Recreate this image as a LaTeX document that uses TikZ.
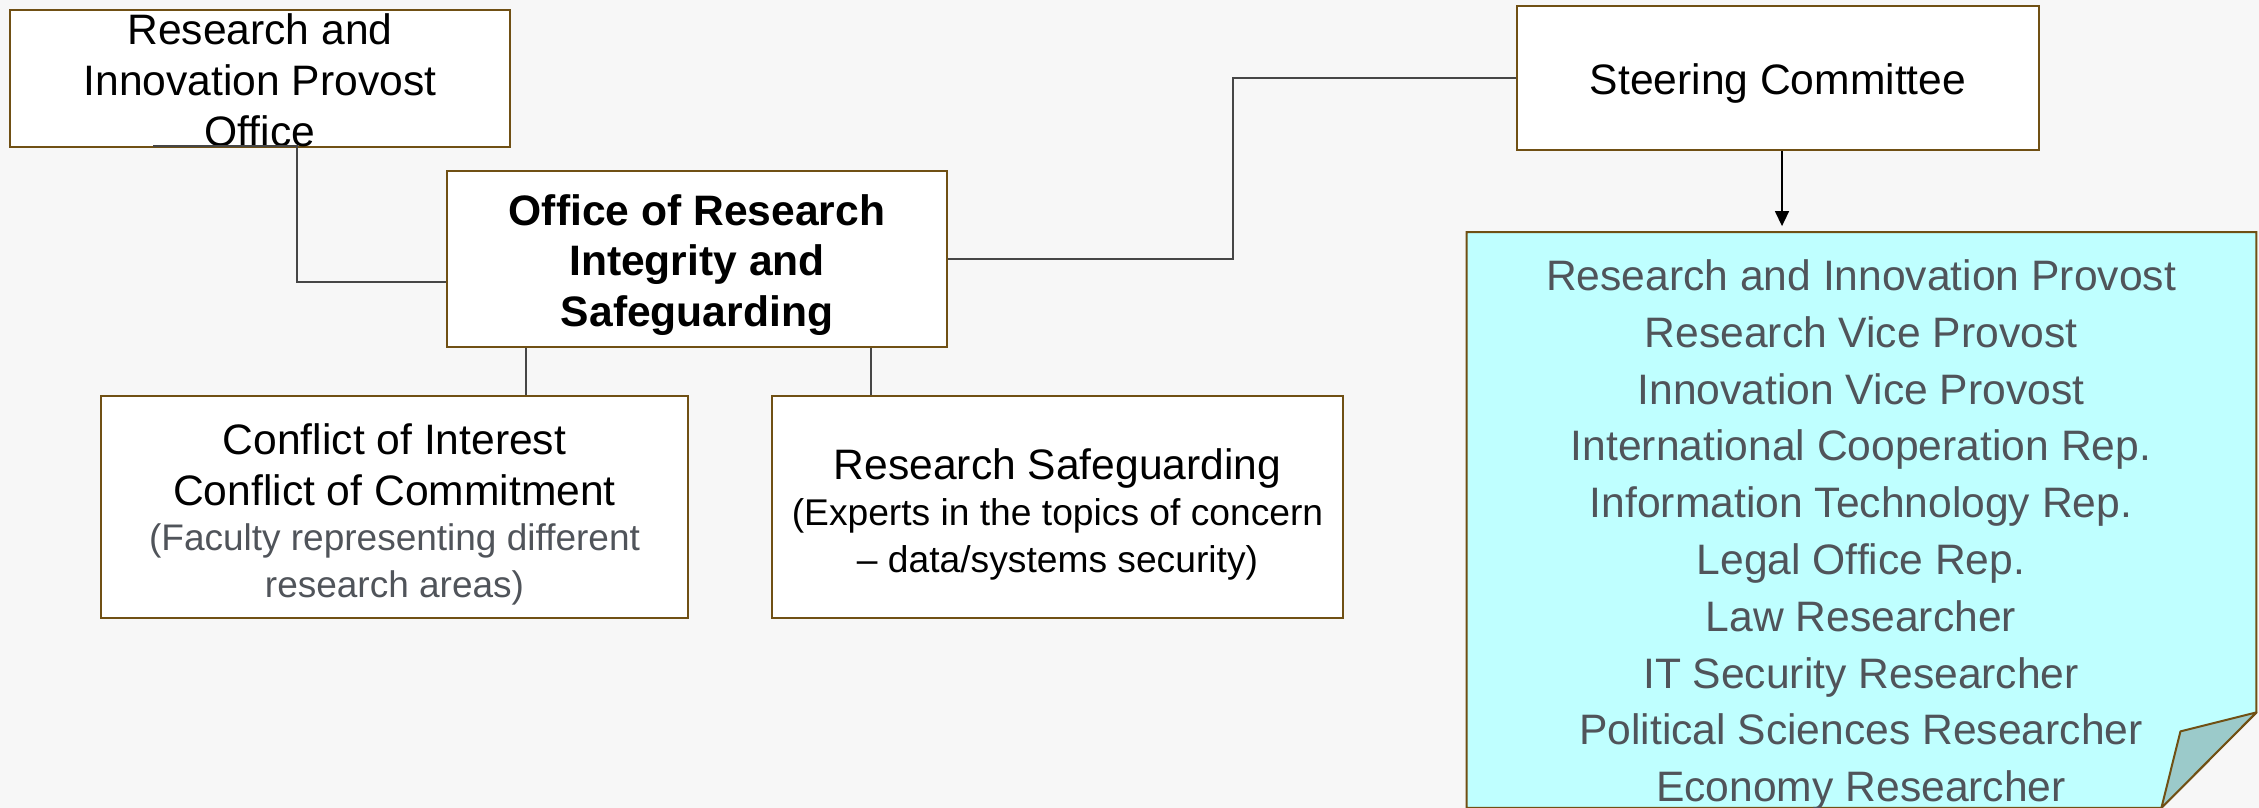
\documentclass[tikz,border=0pt]{standalone}
\usepackage{fontspec}
\setmainfont{Liberation Sans}
\usetikzlibrary{arrows.meta}
\definecolor{bgc}{RGB}{247,247,247}
\definecolor{boxbrown}{RGB}{112,80,20}
\definecolor{memfill}{RGB}{191,255,255}
\definecolor{foldfill}{RGB}{155,202,202}
\definecolor{softgray}{RGB}{80,84,90}
\definecolor{linegray}{RGB}{70,70,70}
\newcommand{\tstrut}[1]{\rule{0pt}{#1}}
\begin{document}
\begin{tikzpicture}[x=0.5pt,y=-0.5pt,
  orgbox/.style={draw=boxbrown, line width=1pt, fill=white, align=center, inner sep=0pt,
    font=\fontsize{21.3}{25.5}\selectfont},
  conn/.style={draw=linegray, line width=0.75pt}]
\fill[bgc] (0,0) rectangle (2259,808);
\useasboundingbox (0,0) rectangle (2259,808);

% members (cyan note)
\node[minimum width=394.5pt, minimum height=287.5pt, inner sep=0pt] (members) at (1861.5,520) {};
\draw[boxbrown, line width=1pt, fill=memfill]
  (members.north west) -- (members.north east) -- ([yshift=47.75pt]members.south east)
  -- ([xshift=-47.5pt]members.south east) -- (members.south west) -- cycle;
\draw[boxbrown, line width=1pt, fill=foldfill, line join=round]
  ([yshift=47.75pt]members.south east) -- ([xshift=-38pt,yshift=38.25pt]members.south east)
  -- ([xshift=-47.5pt]members.south east) -- cycle;
\node[font=\fontsize{21.3}{28.4}\selectfont, text=softgray, align=center] (memtext) at (1861,535)
  {Research and Innovation Provost\\Research Vice Provost\\Innovation Vice Provost\\International Cooperation Rep.\\Information Technology Rep.\\Legal Office Rep.\\Law Researcher\\IT Security Researcher\\Political Sciences Researcher\\Economy Researcher};

% boxes
\node[orgbox, minimum width=250pt, minimum height=68.5pt] (ripo) at (260,78.5)
  {\tstrut{17.3pt}Research and\\Innovation Provost\\Office};
\node[orgbox, minimum width=250pt, minimum height=88pt, font=\bfseries\fontsize{21.3}{25.2}\selectfont] (oris) at (697,259)
  {\tstrut{21.5pt}Office of Research\\Integrity and\\Safeguarding};
\node[orgbox, minimum width=261pt, minimum height=72pt] (sc) at (1778,78) {\tstrut{21.2pt}Steering Committee};
\node[orgbox, minimum width=293.5pt, minimum height=111pt] (coi) at (394.5,507)
  {\tstrut{23pt}Conflict of Interest\\Conflict of Commitment\\[-3pt]
   \fontsize{18.5}{23}\selectfont\color{softgray}(Faculty representing different\\[-2pt]
   \fontsize{18.5}{23}\selectfont\color{softgray}research areas)};
\node[orgbox, minimum width=285.5pt, minimum height=111pt] (rs) at (1057.5,507)
  {\tstrut{22.6pt}Research Safeguarding\\[-2.7pt]
   \fontsize{18.6}{22.5}\selectfont (Experts in the topics of concern\\[-2pt]
   \fontsize{18.6}{22.5}\selectfont – data/systems security)};

% connectors
\draw[conn] ([xshift=72pt,yshift=1pt]ripo.south west) -- ++(72pt,0) |- ([yshift=-11.5pt]oris.west);
\draw[conn] (oris.east) -- ++(142.5pt,0) |- (sc.west);
\coordinate (o1) at ([xshift=40pt]oris.south west);
\coordinate (o2) at ([xshift=212.5pt]oris.south west);
\draw[conn] (o1) -- (o1 |- coi.north);
\draw[conn] (o2) -- (o2 |- rs.north);
\coordinate (a1) at ([xshift=2pt]sc.south);
\draw[line width=0.75pt, -{Triangle[length=7.5pt,width=7pt]}, shorten >=3pt] (a1) -- (a1 |- members.north);
\end{tikzpicture}
\end{document}
